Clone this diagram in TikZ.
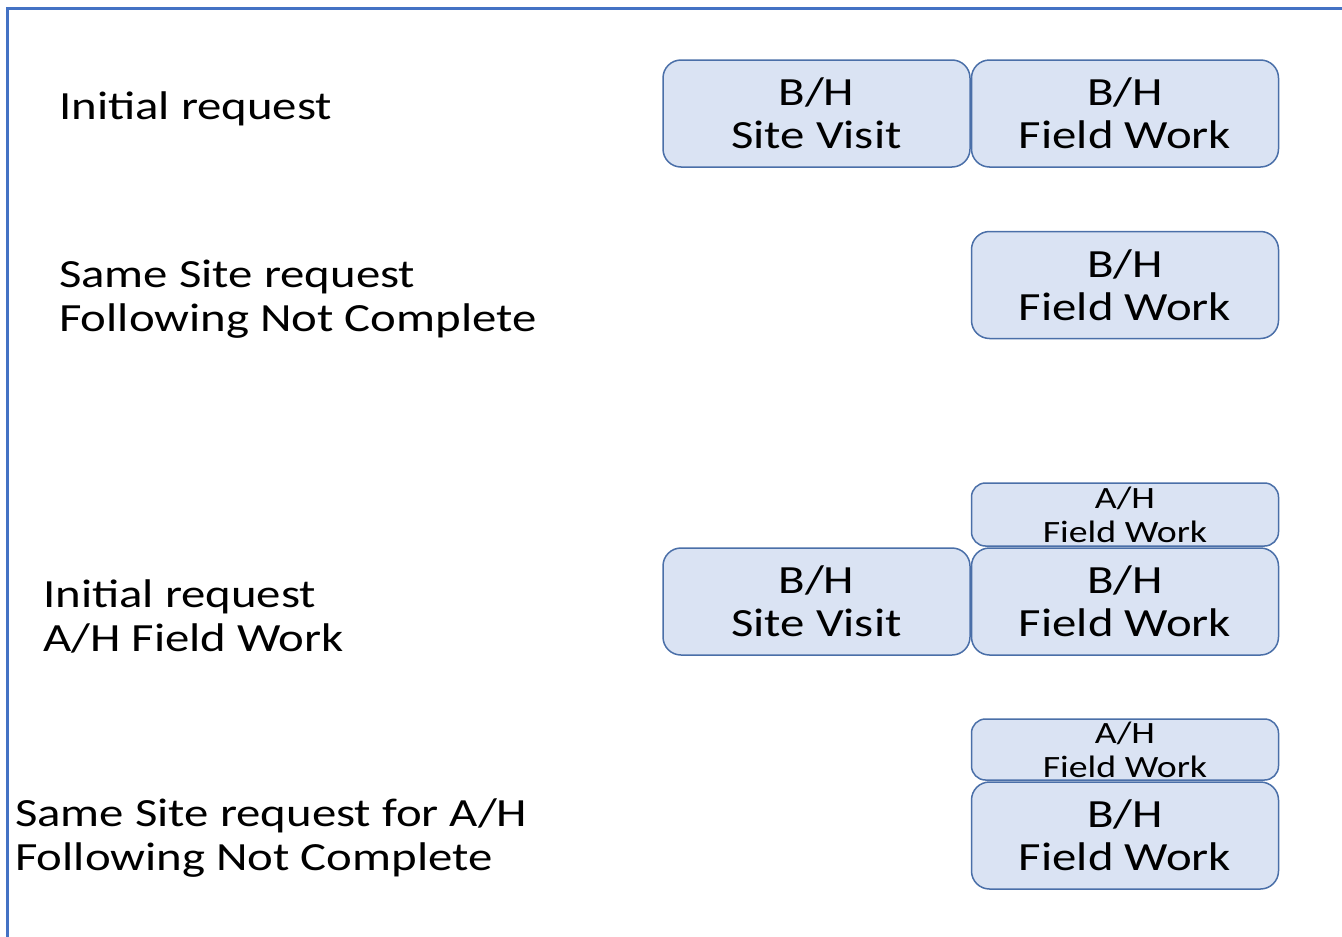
\documentclass[tikz,border=0pt]{standalone}
\usepackage{fontspec}
\setmainfont{Carlito}[FakeStretch=1.22]
\definecolor{frameblue}{HTML}{4472C4}
\definecolor{boxfill}{HTML}{DAE3F3}
\definecolor{boxline}{HTML}{4A6FA8}
\begin{document}
\begin{tikzpicture}[x=1pt,y=-1pt,
  bigbox/.style={draw=boxline, fill=boxfill, line width=1.5pt,
    rounded corners=18pt, minimum width=307pt, minimum height=107pt,
    inner sep=0pt, align=center, font=\fontsize{40}{43}\selectfont},
  smallbox/.style={bigbox, minimum height=63pt, rounded corners=14pt,
    font=\fontsize{31}{34}\selectfont},
  rowlabel/.style={anchor=base west, inner sep=0pt,
    font=\fontsize{40}{44}\selectfont}]
\useasboundingbox (0,0) rectangle (1342,937);

% frame along the top and left edges
\coordinate (fbot) at (7,940);
\coordinate (fcorner) at (7,8);
\coordinate (fright) at (1345,8);
\draw[frameblue, line width=3pt] (fbot) -- (fcorner) -- (fright);

% row labels
\node[rowlabel] (l1) at (59,119) {\vtop{\hbox{Initial request}}};
\node[rowlabel] (l2) at (59,287) {\vtop{\hbox{Same Site request}\hbox{Following Not Complete}}};
\node[rowlabel] (l3) at (43,607) {\vtop{\hbox{Initial request}\hbox{A/H Field Work}}};
\node[rowlabel] (l4) at (15,826) {\vtop{\hbox{Same Site request for A/H}\hbox{Following Not Complete}}};

% row 1
\node[bigbox] (sv1) at (816.5,113.5) {B/H\\Site Visit};
\node[bigbox] (fw1) at (1125,113.5) {B/H\\Field Work};

% row 2
\node[bigbox] (fw2) at (1125,285) {B/H\\Field Work};

% row 3
\node[smallbox] (ah3) at (1125,514.5) {A/H\\Field Work};
\node[bigbox] (sv3) at (816.5,601.5) {B/H\\Site Visit};
\node[bigbox] (fw3) at (1125,601.5) {B/H\\Field Work};

% row 4
\node[smallbox, minimum height=61pt] (ah4) at (1125,749.5) {A/H\\Field Work};
\node[bigbox] (fw4) at (1125,835.5) {B/H\\Field Work};
\end{tikzpicture}
\end{document}
